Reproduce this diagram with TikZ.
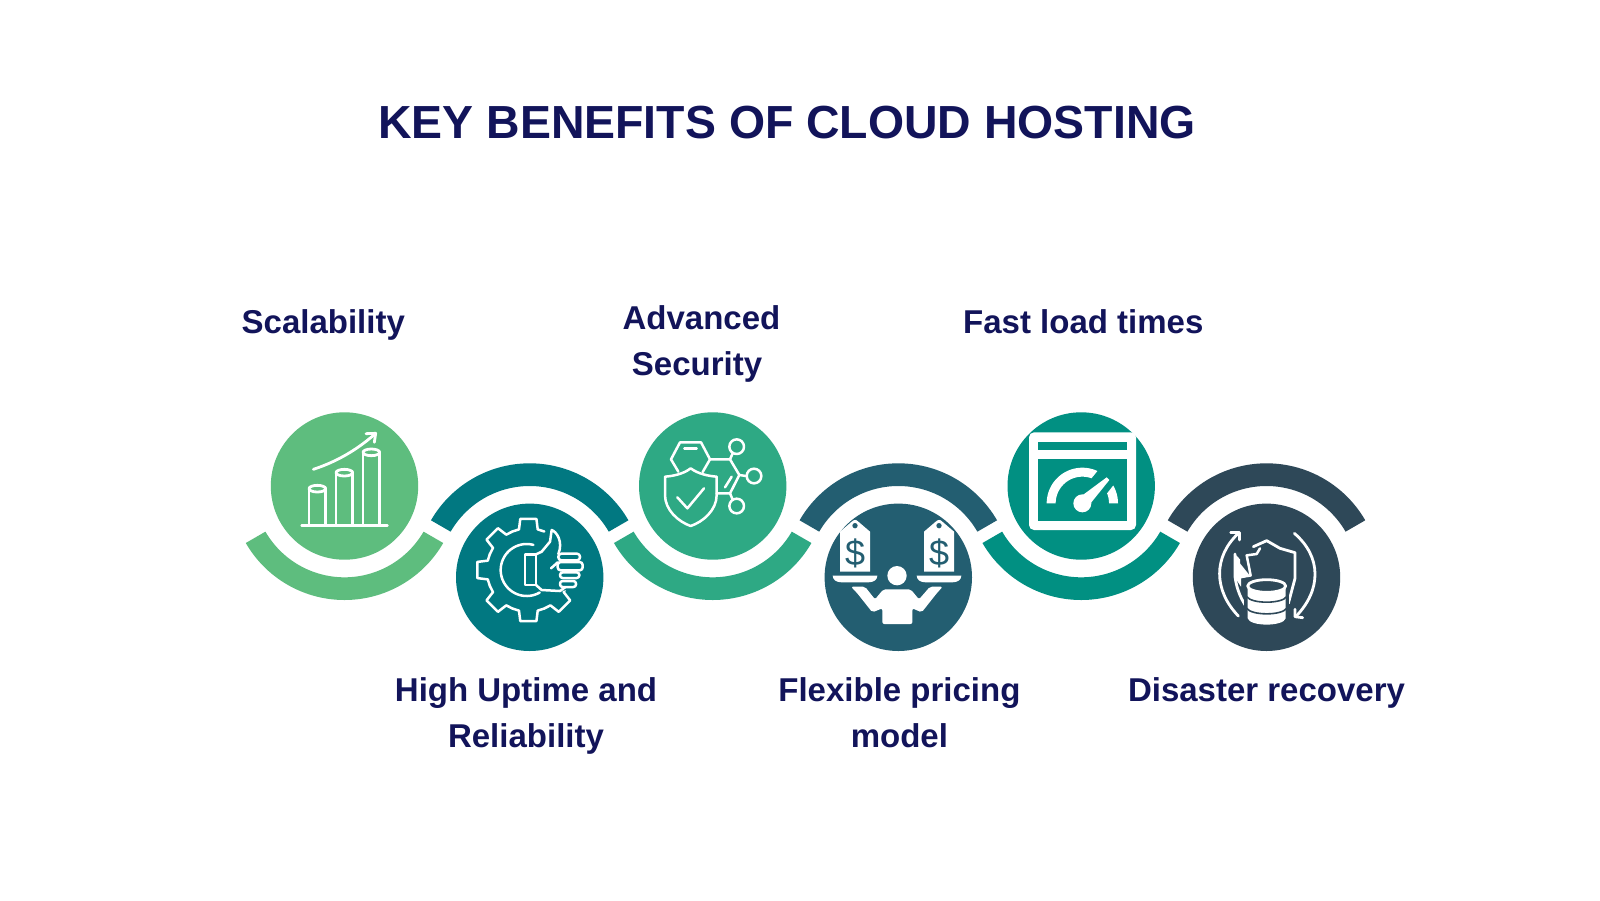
\documentclass[tikz,border=0pt]{standalone}
\usepackage{fontspec}
\setmainfont{Liberation Sans}
\definecolor{navy}{HTML}{12145A}
\definecolor{colA}{HTML}{5EBD7E}
\definecolor{colB}{HTML}{017881}
\definecolor{colC}{HTML}{2EA984}
\definecolor{colD}{HTML}{235E71}
\definecolor{colE}{HTML}{019082}
\definecolor{colF}{HTML}{2E4858}
\tikzset{
  disc/.style={circle,inner sep=0pt,minimum size=73.7pt},
  heading/.style={text=navy,font=\fontsize{23.2}{28}\selectfont\bfseries,inner sep=0pt,anchor=base},
  lbl/.style={text=navy,font=\fontsize{16.5}{23}\selectfont\bfseries,inner sep=0pt,align=center,anchor=base},
  zoomA/.style={shift={(240,400)},x=.166667pt,y=-.166667pt},
  zoomB/.style={shift={(620,400)},x=.166667pt,y=-.166667pt},
  zoomC/.style={shift={(980,400)},x=.166667pt,y=-.166667pt},
  icon/.style={draw=white,line width=1.4pt,line join=round,line cap=round},
  thin icon/.style={draw=white,line width=1.25pt,line join=round,line cap=round},
  dollar/.style={text=#1,font=\fontsize{18}{18}\selectfont,inner sep=0pt},
}
\newcommand{\bandshape}[3]{% centre node, colour, start angle
  \begin{scope}[shift={(#1)}]
    \fill[#2] plot[domain=#3:#3+120,samples=61] ({114*cos(\x)},{114*sin(\x)})
      -- plot[domain=#3+120:#3,samples=61] ({91.3*cos(\x)},{91.3*sin(\x)}) -- cycle;
  \end{scope}}
\begin{document}
\begin{tikzpicture}[x=.5pt,y=-.5pt]
\useasboundingbox (0,0) rectangle (1600,900);
\fill[white] (0,0) rectangle (1600,900);
% title
\node[heading] (title) at (787,138) {KEY BENEFITS OF CLOUD HOSTING};
% discs
\node[disc,fill=colA] (c1) at (344.5,486) {};
\node[disc,fill=colB] (c2) at (529.7,577.3) {};
\node[disc,fill=colC] (c3) at (712.7,486) {};
\node[disc,fill=colD] (c4) at (898.3,577.3) {};
\node[disc,fill=colE] (c5) at (1081.2,486) {};
\node[disc,fill=colF] (c6) at (1266.5,577.3) {};
% bands
\bandshape{c1}{colA}{30}
\bandshape{c2}{colB}{-150}
\bandshape{c3}{colC}{30}
\bandshape{c4}{colD}{-150}
\bandshape{c5}{colE}{30}
\bandshape{c6}{colF}{-150}
% labels
\node[lbl] (l1) at (323.3,333) {Scalability};
\node[lbl] (l3) at (697,375) {\hspace*{4.5pt}Advanced\\Security};
\node[lbl] (l5) at (1083.3,333) {Fast load times};
\node[lbl] (l2) at (526,747) {High Uptime and\\Reliability};
\node[lbl] (l4) at (899.4,747) {Flexible pricing\\model};
\node[lbl] (l6) at (1266.5,701) {Disaster recovery};
% ---------- icon 1: bars
\begin{scope}[zoomA]
  \draw[icon] (185,376) -- (442,376);
  \foreach \xa/\ya in {232/266,313/218,394/157}{
    \draw[icon] (\xa-25,\ya) -- (\xa-25,376) (\xa+25,\ya) -- (\xa+25,376);
    \draw[icon] (\xa,\ya) ellipse [x radius=25,y radius=10];
  }
  \draw[icon] (220,208) .. controls (290,185) and (350,150) .. (405,102);
  \draw[icon] (378,101) -- (407,100) -- (403,127);
% ---------- icon 2: gear and thumb
  \begin{scope}[shift={(865,510)}]
    \foreach \a in {-90,-135,180,135,90,45}{
      \draw[thin icon] (\a-22.5:125) -- (\a-13:125) -- (\a-9:155) -- (\a+9:155) -- (\a+13:125) -- (\a+22.5:125);
    }
    \draw[thin icon] plot[domain=60:285,samples=40] ({78*cos(\x)-5},{78*sin(\x)});
  \end{scope}
  \fill[colB] (888,463) -- (905,455) -- (930,425) -- (935,390) -- (952,405) -- (965,435) -- (1030,460) -- (1030,565) -- (960,573) -- (905,570) -- (888,555) -- cycle;
  \draw[thin icon] (855,463) rectangle (888,555);
  \draw[thin icon] (888,463) -- (905,455) -- (930,425) -- (935,390) .. controls (950,395) and (970,425) .. (955,462);
  \draw[thin icon] (888,555) -- (905,570) -- (960,573) -- (975,562);
  \draw[thin icon] (933,505) -- (953,487);
  \draw[thin icon,rounded corners=1.5pt] (955,461) rectangle (1020,481);
  \draw[thin icon,rounded corners=1.5pt] (953,486) rectangle (1028,511);
  \draw[thin icon,rounded corners=1.3pt] (960,517) rectangle (1018,534);
  \draw[thin icon,rounded corners=1.3pt] (960,543) rectangle (1008,561);
\end{scope}
% ---------- icon 3: molecule and shield
\begin{scope}[zoomB]
  \draw[thin icon] (175,215) -- (153,178) -- (180,127) -- (243,127) -- (270,178) -- (248,216);
  \draw[thin icon] (193,145) -- (230,145);
  \draw[thin icon] (270,178) -- (330,178) -- (358,225) -- (330,280) -- (290,280);
  \draw[thin icon] (315,262) -- (335,230);
  \draw[thin icon] (330,178) -- (338,160) (358,225) -- (378,228) (330,280) -- (338,299);
  \draw[thin icon] (350,140) circle [radius=22];
  \draw[thin icon] (402,228) circle [radius=22];
  \draw[thin icon] (350,318) circle [radius=22];
  \draw[thin icon] (212,205) .. controls (190,222) and (160,228) .. (135,230) -- (135,285)
     .. controls (135,330) and (175,365) .. (212,378) .. controls (250,365) and (290,330) .. (290,285)
     -- (290,230) .. controls (265,228) and (235,222) .. (212,205) -- cycle;
  \draw[thin icon] (172,292) -- (202,325) -- (252,265);
% ---------- icon 4: price tags and person
  \foreach \dx in {0,252}{
    \begin{scope}[xshift=\dx*.166667pt]
      \fill[white] (660,395) -- (695,365) .. controls (703,358) and (708,358) .. (715,365) -- (750,395) -- (750,515) -- (660,515) -- cycle;
      \fill[colD] (705,377) circle [radius=8];
      \node[dollar=colD] at (705,460) {\$};
      \fill[white] (638,527) -- (772,527) .. controls (772,540) and (760,547) .. (745,547) -- (665,547) .. controls (650,547) and (638,540) .. (638,527) -- cycle;
    \end{scope}
  }
  \fill[white] (831,527) circle [radius=29];
  \fill[white,rounded corners=1pt] (693,560) -- (735,560) -- (765,598) -- (790,568) -- (872,568) -- (897,598) -- (930,560) -- (968,560) -- (950,580) -- (905,637) -- (877,625) -- (877,672) -- (787,672) -- (787,625) -- (757,637) -- (712,580) -- cycle;
\end{scope}
% ---------- icon 5: gauge window
\begin{scope}[zoomC]
  \fill[white,rounded corners=2.5pt] (147,97) rectangle (468,390);
  \fill[colE] (175,125) rectangle (442,151);
  \fill[colE] (175,178) rectangle (442,363);
  \begin{scope}[shift={(307,310)}]
    \fill[white] plot[domain=-180:-65,samples=40] ({107*cos(\x)},{107*sin(\x)})
      -- plot[domain=-70:-180,samples=40] ({80*cos(\x)},{80*sin(\x)}) -- cycle;
    \fill[white] plot[domain=-30:0,samples=12] ({107*cos(\x)},{107*sin(\x)})
      -- plot[domain=0:-22,samples=12] ({80*cos(\x)},{80*sin(\x)}) -- cycle;
    \fill[white] (0,0) circle [radius=27];
  \end{scope}
  \fill[white] (295,295) -- (380,232) -- (388,240) -- (322,322) -- cycle;
% ---------- icon 6: shield and database
  \draw[icon] (775,648) .. controls (700,570) and (700,470) .. (775,400);
  \draw[icon] (752,397) -- (778,397) -- (778,420);
  \draw[icon] (943,400) .. controls (1025,470) and (1025,570) .. (947,650);
  \draw[icon] (968,653) -- (945,650) -- (945,628);
  \draw[icon] (820,440) -- (860,422) -- (900,445) -- (945,458) -- (945,535) -- (925,610);
  \draw[icon] (765,462) -- (765,530) .. controls (770,570) and (785,600) .. (800,622);
  \draw[thin icon] (840,445) -- (830,462) -- (800,466) -- (812,527);
  \fill[white] (763,460) -- (780,478) -- (780,490) -- (812,530) -- (783,535) -- (783,560) -- (763,530) -- cycle;
  \fill[colF] (793,558) -- (927,558) -- (927,680) -- (793,680) -- cycle;
  \fill[white] (803,558) -- (803,655) .. controls (810,680) and (910,680) .. (917,655) -- (917,558) -- cycle;
  \draw[colF,line width=.8pt] (800,590) .. controls (815,612) and (905,612) .. (920,590);
  \draw[colF,line width=.8pt] (800,625) .. controls (815,647) and (905,647) .. (920,625);
  \fill[colF] (860,558) ellipse [x radius=57,y radius=19];
  \draw[icon] (860,558) ellipse [x radius=57,y radius=19];
\end{scope}
\end{tikzpicture}
\end{document}
